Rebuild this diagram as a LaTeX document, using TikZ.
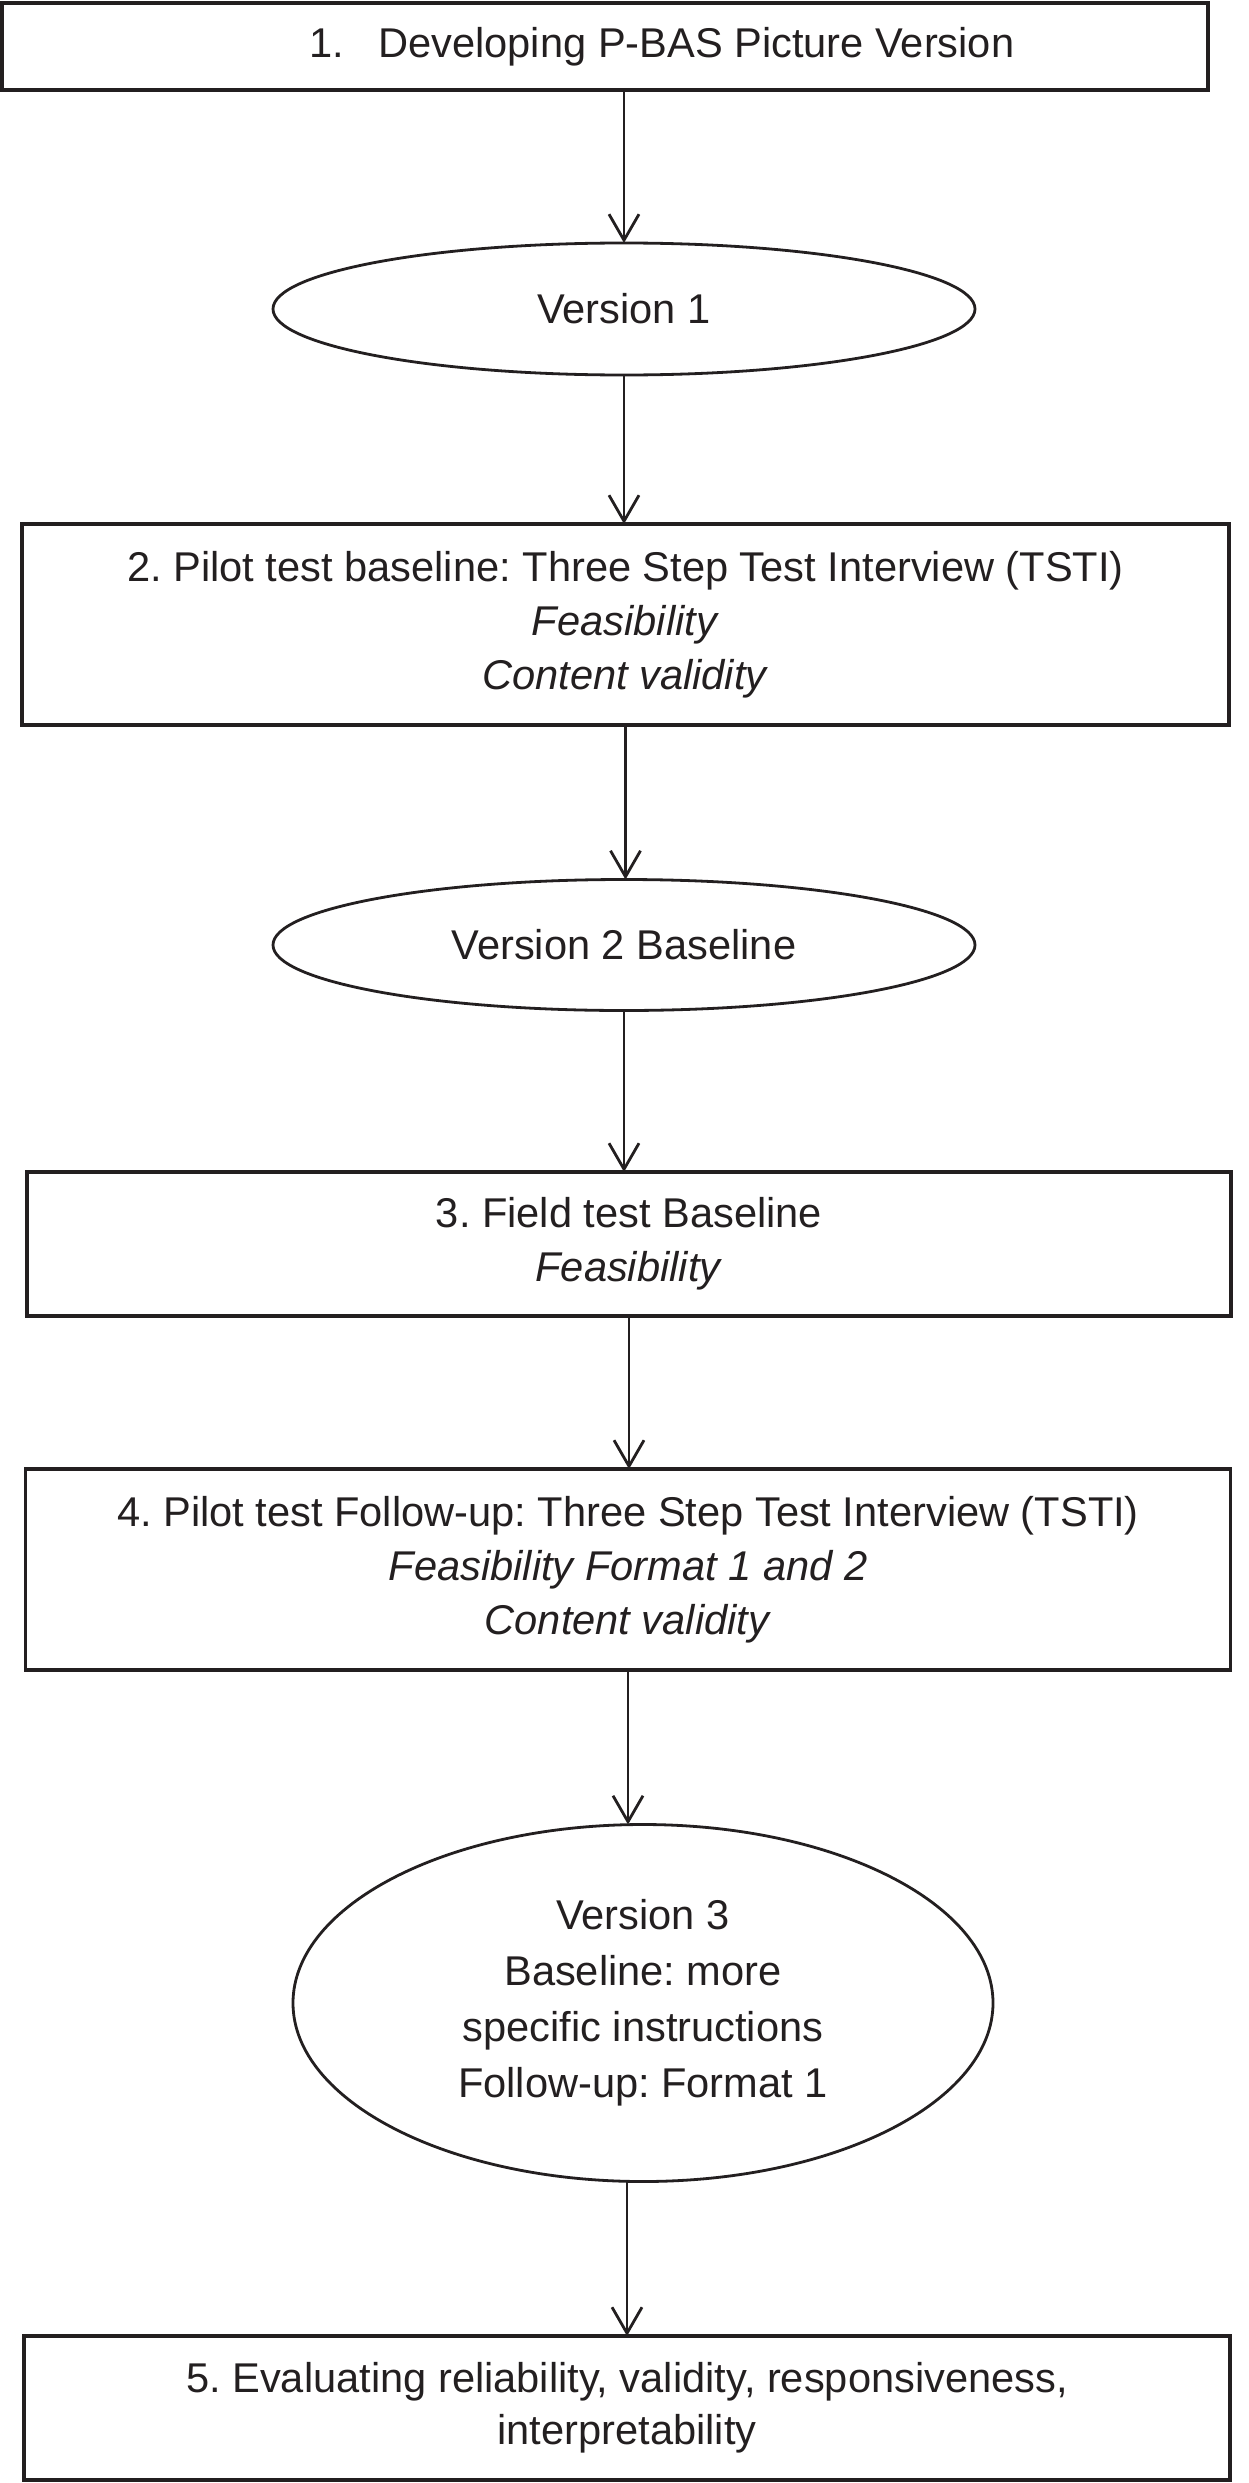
\documentclass[tikz,border=0pt]{standalone}
\usepackage{fontspec}
\setmainfont{Liberation Sans}
\usetikzlibrary{shapes.geometric,arrows.meta}
\definecolor{ink}{HTML}{231F20}
\frenchspacing
\begin{document}
\begin{tikzpicture}[x=0.5pt,y=-0.5pt,
  every node/.style={inner sep=0pt, outer sep=0pt, font=\frenchspacing\fontsize{20.8}{27}\selectfont, align=center, text=ink},
  stepbox/.style={draw=ink, line width=1.75pt, rectangle},
  oval/.style={draw=ink, line width=1.4pt, ellipse},
  arr/.style={draw=ink, line width=1.4pt, -{Straight Barb[length=13pt,width=15pt,line width=1.4pt]}}]
\fill[white] (0,0) rectangle (1248,2483);
\useasboundingbox (0,0) rectangle (1248,2483);
\node[stepbox, minimum width=603pt, minimum height=43.5pt] (b1) at (605,46.5) {\hspace*{57pt}1.\hspace{17pt}Developing P-BAS Picture Version};
\node[oval, minimum width=351pt, minimum height=66pt] (e1) at (624,309) {Version 1};
\node[stepbox, minimum width=603.5pt, minimum height=100.5pt] (b2) at (625.5,624.5) {2. Pilot test baseline: Three Step Test Interview (TSTI)\\ \textit{Feasibility}\\ \textit{Content validity}};
\node[oval, minimum width=351pt, minimum height=65.5pt] (e2) at (624,945) {Version 2 Baseline};
\node[stepbox, minimum width=602pt, minimum height=72pt] (b3) at (629,1244) {3. Field test Baseline\\ \textit{Feasibility}};
\node[stepbox, minimum width=602.5pt, minimum height=100.5pt] (b4) at (628,1569.5) {4. Pilot test Follow-up: Three Step Test Interview (TSTI)\\ \textit{Feasibility Format 1 and 2}\\ \textit{Content validity}};
\node[oval, minimum width=350pt, minimum height=178.5pt, font=\frenchspacing\fontsize{20.8}{28}\selectfont] (e3) at (643,2003) {\raisebox{-2.5pt}{\parbox{220pt}{\centering Version 3\\ Baseline: more\\ specific instructions\\ Follow-up: Format 1}}};
\node[stepbox, minimum width=603pt, minimum height=72pt, font=\frenchspacing\fontsize{20.8}{26}\selectfont] (b5) at (627,2408) {5. Evaluating reliability, validity, responsiveness,\\ interpretability};
\draw[arr] (b1.south -| e1.north) -- (e1.north);
\draw[arr] (e1.south) -- (e1.south |- b2.north);
\draw[arr] (b2.south) -- (b2.south |- e2.north);
\draw[arr] (e2.south) -- (e2.south |- b3.north);
\draw[arr] (b3.south) -- (b3.south |- b4.north);
\draw[arr] (b4.south) -- (b4.south |- e3.north);
\draw[arr] (e3.south -| b5.north) -- (b5.north);
\end{tikzpicture}
\end{document}
